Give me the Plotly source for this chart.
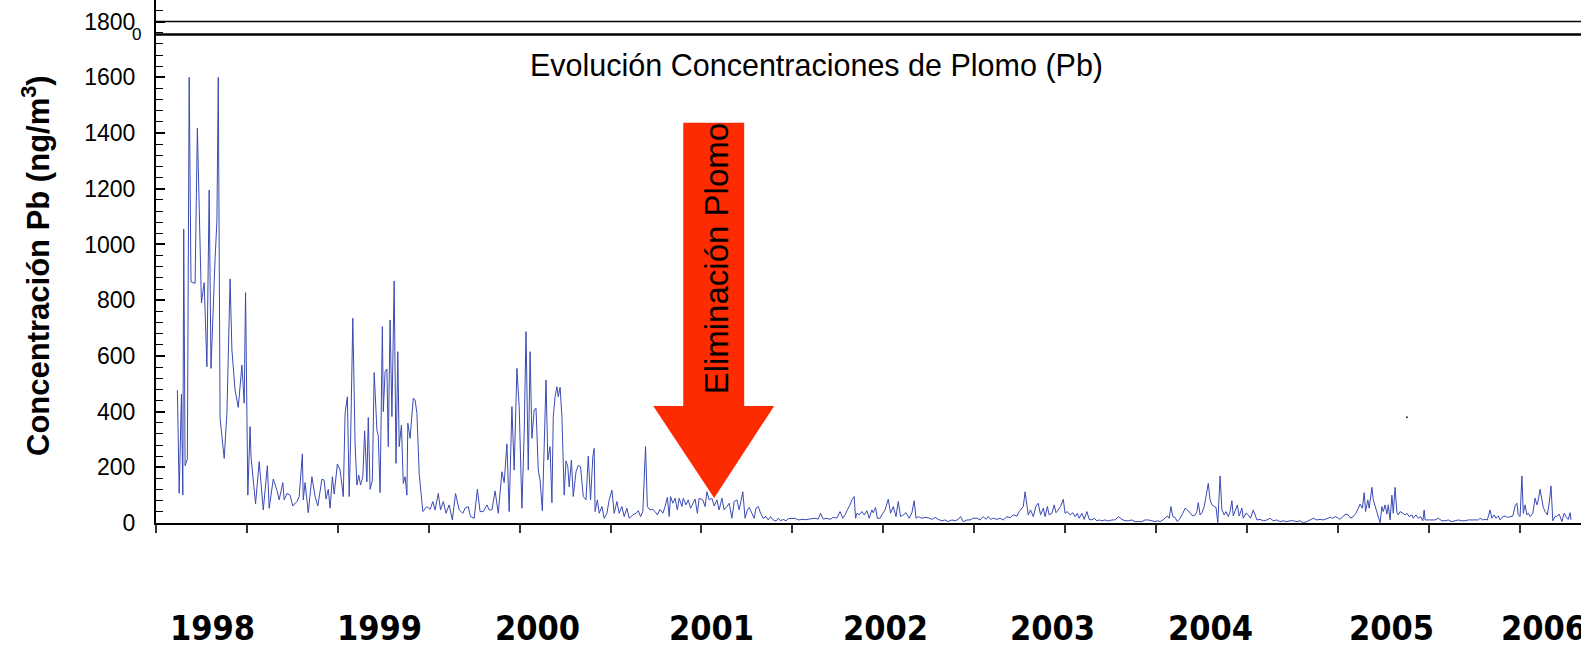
import datetime as dt
import plotly.graph_objects as go

# ---------------- data ----------------
start_date = dt.date(1997, 11, 20)

sample_day = [
    47, 51, 56, 59, 61, 64, 69, 73, 77, 86, 91, 100, 106, 112, 117, 121, 130, 134, 137, 141,
    150, 156, 163, 167, 174, 181, 189, 194, 197, 202, 207, 209, 214, 219, 227, 236, 245, 249, 258, 266,
    271, 279, 282, 288, 295, 301, 310, 315, 322, 324, 328, 335, 343, 350, 356, 365, 370, 374, 379, 383,
    388, 392, 399, 405, 412, 416, 421, 425, 428, 433, 438, 442, 446, 450, 455, 459, 464, 467, 471, 476,
    480, 486, 489, 493, 498, 500, 504, 508, 511, 515, 519, 524, 528, 532, 535, 540, 544, 548, 552, 554,
    559, 566, 570, 574, 579, 587, 596, 603, 609, 614, 621, 626, 632, 638, 645, 652, 659, 667, 675, 680,
    687, 692, 700, 707, 713, 720, 728, 733, 739, 746, 753, 761, 766, 772, 777, 783, 788, 794, 799, 805,
    810, 814, 819, 823, 827, 832, 836, 841, 845, 850, 854, 858, 862, 867, 871, 874, 878, 882, 885, 889,
    893, 898, 902, 906, 909, 914, 918, 924, 929, 934, 940, 946, 951, 956, 961, 964, 966, 971, 975, 981,
    986, 992, 997, 1003, 1008, 1014, 1019, 1025, 1030, 1036, 1041, 1049, 1056, 1061, 1066, 1071, 1077, 1081, 1087, 1093,
    1098, 1103, 1109, 1115, 1120, 1125, 1129, 1132, 1137, 1142, 1147, 1151, 1157, 1160, 1166, 1171, 1176, 1181, 1186, 1191,
    1195, 1203, 1208, 1212, 1217, 1223, 1228, 1234, 1239, 1245, 1250, 1256, 1261, 1267, 1272, 1278, 1283, 1291, 1296, 1301,
    1305, 1311, 1316, 1320, 1325, 1330, 1336, 1342, 1347, 1352, 1358, 1364, 1369, 1374, 1380, 1386, 1392, 1399, 1406, 1413,
    1421, 1428, 1435, 1443, 1450, 1457, 1462, 1468, 1476, 1483, 1490, 1498, 1505, 1511, 1516, 1521, 1527, 1531, 1536, 1539,
    1542, 1547, 1553, 1558, 1564, 1569, 1575, 1578, 1583, 1587, 1593, 1599, 1604, 1611, 1616, 1622, 1628, 1633, 1638, 1644,
    1650, 1657, 1663, 1668, 1672, 1677, 1685, 1692, 1699, 1707, 1714, 1721, 1729, 1736, 1743, 1751, 1758, 1765, 1770, 1776,
    1784, 1791, 1798, 1806, 1813, 1820, 1826, 1831, 1836, 1842, 1850, 1857, 1864, 1872, 1879, 1886, 1894, 1899, 1905, 1908,
    1912, 1916, 1919, 1924, 1930, 1936, 1941, 1946, 1952, 1956, 1961, 1965, 1971, 1976, 1980, 1985, 1990, 1996, 2000, 2005,
    2011, 2017, 2022, 2027, 2031, 2037, 2042, 2048, 2053, 2059, 2064, 2070, 2075, 2081, 2088, 2095, 2103, 2110, 2117, 2125,
    2132, 2139, 2147, 2154, 2161, 2169, 2176, 2183, 2191, 2198, 2203, 2209, 2215, 2220, 2225, 2229, 2233, 2237, 2242, 2247,
    2253, 2259, 2264, 2269, 2275, 2281, 2286, 2290, 2293, 2297, 2301, 2306, 2310, 2315, 2319, 2323, 2326, 2332, 2336, 2341,
    2345, 2350, 2354, 2359, 2363, 2367, 2370, 2374, 2379, 2383, 2389, 2392, 2398, 2403, 2408, 2414, 2422, 2429, 2436, 2444,
    2451, 2458, 2466, 2473, 2480, 2488, 2495, 2502, 2510, 2517, 2524, 2532, 2539, 2546, 2554, 2561, 2568, 2576, 2583, 2589,
    2594, 2599, 2605, 2612, 2618, 2623, 2628, 2634, 2640, 2645, 2649, 2654, 2658, 2661, 2666, 2669, 2675, 2678, 2682, 2686,
    2689, 2693, 2697, 2700, 2704, 2708, 2711, 2715, 2719, 2722, 2726, 2730, 2733, 2737, 2743, 2748, 2752, 2757, 2763, 2766,
    2772, 2777, 2782, 2787, 2790, 2792, 2799, 2807, 2814, 2821, 2829, 2836, 2843, 2851, 2858, 2865, 2873, 2880, 2887, 2895,
    2902, 2909, 2913, 2919, 2924, 2929, 2935, 2939, 2944, 2948, 2953, 2957, 2963, 2968, 2973, 2979, 2985, 2990, 2994, 2997,
    3001, 3005, 3008, 3012, 3016, 3019, 3023, 3029, 3034, 3038, 3041, 3045, 3049, 3052, 3056, 3061, 3065, 3069, 3073, 3078,
    3083, 3087, 3093, 3098, 3104, 3107, 3111, 3113,
]

pb_conc = [
    477, 107, 462, 100, 1055, 206, 229, 1600, 866, 860, 1417, 790, 863, 561, 1195, 555, 950, 1084, 1600, 376,
    232, 394, 876, 621, 477, 415, 567, 430, 827, 100, 346, 238, 154, 68, 220, 47, 206, 53, 158, 118,
    83, 145, 83, 106, 100, 61, 77, 95, 248, 83, 145, 37, 166, 95, 61, 157, 154, 86, 121, 53,
    166, 104, 212, 190, 95, 394, 453, 95, 286, 735, 286, 136, 172, 136, 166, 331, 148, 379, 121, 154,
    540, 334, 313, 109, 705, 400, 543, 553, 274, 729, 382, 869, 214, 615, 274, 352, 142, 166, 100, 358,
    304, 448, 442, 394, 178, 41, 59, 49, 77, 47, 106, 47, 77, 35, 65, 11, 106, 47, 35, 53,
    59, 23, 17, 121, 41, 41, 65, 47, 47, 115, 35, 184, 145, 284, 41, 418, 190, 555, 418, 53,
    322, 687, 190, 615, 304, 406, 412, 190, 154, 44, 274, 513, 226, 274, 73, 382, 453, 489, 453, 487,
    382, 100, 223, 202, 130, 226, 95, 184, 206, 202, 95, 83, 240, 83, 238, 268, 41, 83, 35, 59,
    17, 35, 83, 118, 35, 77, 35, 59, 23, 53, 17, 29, 35, 44, 23, 41, 274, 59, 47, 49,
    41, 29, 49, 35, 59, 92, 23, 95, 71, 89, 47, 89, 59, 89, 65, 83, 53, 71, 86, 35,
    89, 83, 59, 112, 83, 89, 61, 83, 47, 89, 47, 59, 71, 17, 77, 83, 47, 112, 17, 47,
    56, 35, 17, 53, 59, 35, 17, 23, 11, 23, 11, 7, 17, 8, 13, 8, 16, 16, 17, 11,
    13, 12, 13, 16, 17, 14, 35, 14, 17, 13, 20, 18, 41, 17, 29, 47, 65, 83, 95, 17,
    35, 29, 41, 29, 44, 17, 47, 37, 56, 17, 17, 35, 47, 85, 35, 59, 23, 77, 23, 29,
    37, 17, 37, 80, 17, 23, 17, 20, 19, 13, 20, 13, 8, 11, 5, 11, 8, 13, 23, 5,
    11, 11, 17, 17, 11, 23, 13, 23, 13, 17, 13, 17, 11, 23, 19, 29, 25, 41, 56, 59,
    112, 59, 29, 47, 23, 61, 71, 29, 53, 23, 59, 29, 35, 65, 37, 47, 59, 85, 35, 41,
    29, 37, 23, 35, 17, 35, 13, 41, 13, 11, 17, 8, 11, 8, 11, 7, 11, 11, 23, 13,
    8, 8, 11, 5, 5, 5, 11, 11, 8, 5, 8, 5, 11, 17, 25, 17, 59, 23, 20, 5,
    17, 35, 53, 47, 35, 25, 29, 41, 73, 29, 37, 59, 95, 142, 83, 65, 61, 56, 1, 169,
    47, 29, 41, 23, 41, 80, 25, 47, 65, 25, 53, 17, 35, 29, 17, 47, 11, 13, 8, 11,
    17, 8, 11, 5, 8, 5, 8, 8, 5, 8, 1, 5, 11, 17, 11, 13, 11, 17, 20, 17,
    23, 20, 13, 25, 32, 29, 17, 23, 35, 53, 68, 53, 109, 41, 83, 53, 128, 83, 59, 35,
    17, 1, 59, 41, 65, 32, 65, 11, 100, 35, 128, 37, 29, 41, 35, 29, 35, 23, 29, 17,
    29, 17, 23, 8, 47, 11, 11, 11, 11, 17, 8, 8, 11, 5, 8, 11, 8, 8, 11, 11,
    13, 11, 17, 11, 13, 11, 47, 17, 29, 17, 25, 11, 23, 25, 20, 23, 25, 61, 71, 29,
    23, 169, 35, 65, 29, 35, 23, 35, 89, 65, 83, 121, 89, 56, 41, 29, 71, 133, 8, 23,
    25, 32, 5, 35, 17, 13, 37, 11,
]

year_labels = ["1998", "1999", "2000", "2001", "2002", "2003", "2004", "2005", "2006"]

chart_title = "Evolución Concentraciones de Plomo (Pb)"
y_title = "<b>Concentración Pb (ng/m<sup>3</sup>)</b>"
arrow_text = "Eliminación Plomo"

# ---------------- figure ----------------
W, H = 1581, 647
ML, MR, MT, MB = 156, 0, 0, 124
plot_w = W - ML - MR
plot_h = H - MT - MB

x_span_days = 3135
y_top = 1877.5

def day(n):
    return start_date + dt.timedelta(days=n)

dates = [day(d) for d in sample_day]

fig = go.Figure()

fig.add_trace(go.Scatter(
    x=dates, y=pb_conc, mode="lines",
    line=dict(color="rgb(58,74,180)", width=1),
    hoverinfo="skip",
))

# red arrow (annotation graphic)
arrow_d = [1160, 1294, 1294, 1360, 1228, 1094, 1160, 1160]
arrow_v = [1437, 1437, 420, 420, 90, 420, 420, 1437]
fig.add_trace(go.Scatter(
    x=[day(d) for d in arrow_d], y=arrow_v, mode="lines",
    fill="toself", fillcolor="#ff2b00", line=dict(width=0, color="#ff2b00"),
    hoverinfo="skip",
))

# small stray dot
fig.add_trace(go.Scatter(
    x=[day(2752)], y=[380], mode="markers",
    marker=dict(size=2, color="#1a3a1a"), hoverinfo="skip",
))

tick_font = dict(family="Liberation Sans, Arial, sans-serif", size=23, color="black")

fig.update_xaxes(
    type="date",
    range=[day(0), day(x_span_days)],
    tick0=day(0), dtick=200 * 86400000,
    showticklabels=False,
    ticks="outside", ticklen=8, tickwidth=1.5, tickcolor="#333",
    showline=True, linecolor="black", linewidth=2,
    showgrid=False, zeroline=False,
)
fig.update_yaxes(
    range=[0, y_top],
    tick0=0, dtick=200,
    ticks="inside", ticklen=9, tickwidth=1.5, tickcolor="black",
    minor=dict(dtick=40, ticks="inside", ticklen=7, tickwidth=1.2, tickcolor="black", showgrid=False),
    tickfont=tick_font,
    ticklabelstandoff=14,
    showline=True, linecolor="black", linewidth=2,
    showgrid=False, zeroline=False,
)

def px_x(px):
    return (px - ML) / plot_w

def px_y(py):
    return (H - MB - py) / plot_h

annotations = [
    dict(text=chart_title, x=px_x(816), y=px_y(65), xref="paper", yref="paper",
         showarrow=False, xanchor="center", yanchor="middle",
         font=dict(family="Liberation Sans, Arial, sans-serif", size=30.5, color="black")),
    dict(text=y_title, x=px_x(36), y=px_y(266), xref="paper", yref="paper",
         showarrow=False, textangle=-90, xanchor="center", yanchor="middle",
         font=dict(family="Liberation Sans, Arial, sans-serif", size=31, color="black")),
    dict(text=arrow_text, x=day(1233), y=948, xref="x", yref="y",
         showarrow=False, textangle=-90, xanchor="center", yanchor="middle",
         font=dict(family="Liberation Sans, Arial, sans-serif", size=33, color="black")),
    dict(text="0", x=px_x(143), y=px_y(35), xref="paper", yref="paper",
         showarrow=False, xanchor="right", yanchor="middle",
         font=dict(family="Liberation Sans, Arial, sans-serif", size=17, color="black")),
]

year_px = [212.5, 379, 537, 711, 885, 1052, 1210, 1391, 1543]
for lbl, xp in zip(year_labels, year_px):
    annotations.append(dict(
        text="<b>%s</b>" % lbl, x=px_x(xp), y=px_y(628), xref="paper", yref="paper",
        showarrow=False, xanchor="center", yanchor="middle",
        font=dict(family="DejaVu Sans Condensed, Liberation Sans Narrow, sans-serif",
                  size=34, color="black"),
    ))

shapes = [
    dict(type="line", xref="paper", yref="y", x0=0, x1=1, y0=1800, y1=1800,
         line=dict(color="black", width=1.5)),
    dict(type="line", xref="paper", yref="paper", x0=0, x1=1, y0=px_y(34.5), y1=px_y(34.5),
         line=dict(color="black", width=2.5)),
]

fig.update_layout(
    width=W, height=H,
    margin=dict(l=ML, r=MR, t=MT, b=MB, pad=0),
    paper_bgcolor="white", plot_bgcolor="white",
    showlegend=False, hovermode=False,
    annotations=annotations, shapes=shapes,
)

fig.write_html(
    "out.html",
    config={"displayModeBar": False},
    post_script="document.body.style.margin='0';document.body.style.overflow='hidden';",
)
